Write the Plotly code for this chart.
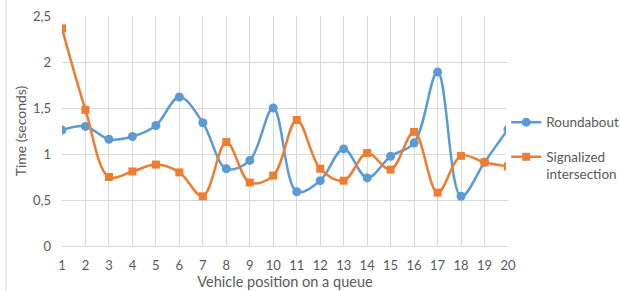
import plotly.graph_objects as go

positions = list(range(1, 21))
roundabout = [1.26, 1.30, 1.16, 1.19, 1.31, 1.62, 1.34, 0.84, 0.93, 1.50,
              0.59, 0.71, 1.055, 0.74, 0.975, 1.12, 1.89, 0.54, 0.91, 1.27]
signalized = [2.365, 1.48, 0.75, 0.81, 0.885, 0.80, 0.54, 1.13, 0.69, 0.765,
              1.37, 0.84, 0.71, 1.01, 0.83, 1.24, 0.58, 0.98, 0.91, 0.865]

BLUE = "#5B9BD5"
ORANGE = "#ED7D31"
GRAY = "#595959"
GRID = "#D9D9D9"
FONT = "Lato"

fig = go.Figure()
fig.add_trace(go.Scatter(
    x=positions, y=roundabout, name="Roundabout", mode="lines+markers",
    legendgroup="a",
    line=dict(color=BLUE, width=2.5, shape="spline", smoothing=1),
    marker=dict(symbol="circle", size=9, color=BLUE),
))
fig.add_trace(go.Scatter(
    x=positions, y=signalized, name="Signalized<br>intersection", mode="lines+markers",
    legendgroup="b",
    line=dict(color=ORANGE, width=2.5, shape="spline", smoothing=1),
    marker=dict(symbol="square", size=8, color=ORANGE),
))

fig.update_layout(
    width=620, height=291,
    margin=dict(l=62, r=112, t=16, b=45, autoexpand=False),
    paper_bgcolor="white", plot_bgcolor="white",
    font=dict(family=FONT, size=13, color=GRAY),
    separators=",.",
    showlegend=True,
    legend=dict(x=0.996, y=0.605, xanchor="left", yanchor="top",
                font=dict(family=FONT, size=13.5, color=GRAY),
                valign="top", itemwidth=30, borderwidth=0,
                traceorder="grouped", tracegroupgap=14),
    xaxis=dict(range=[1, 20], tickmode="linear", tick0=1, dtick=1,
               showgrid=True, gridcolor=GRID, gridwidth=1, zeroline=False,
               showline=False, ticks="", automargin=False,
               ticklabelstandoff=10,
               tickfont=dict(size=13, color=GRAY),
               title=dict(text="Vehicle position on a queue", font=dict(size=14.5, color=GRAY), standoff=3)),
    yaxis=dict(range=[0, 2.5], tickmode="linear", tick0=0, dtick=0.5,
               showgrid=True, gridcolor=GRID, gridwidth=1, zeroline=True,
               zerolinecolor=GRID, zerolinewidth=1, showline=False, ticks="",
               ticklabelstandoff=10, automargin=False,
               tickfont=dict(size=13, color=GRAY),
               title=dict(text="Time (seconds)", font=dict(size=14, color=GRAY), standoff=3)),
)
fig.add_shape(type="line", xref="paper", yref="paper",
              x0=-56/446, x1=-56/446, y0=-0.3, y1=1.1,
              line=dict(color=GRID, width=1))

fig.write_html("out.html",
               config={"displayModeBar": False},
               post_script="document.body.style.margin='0';document.body.style.overflow='hidden';")
